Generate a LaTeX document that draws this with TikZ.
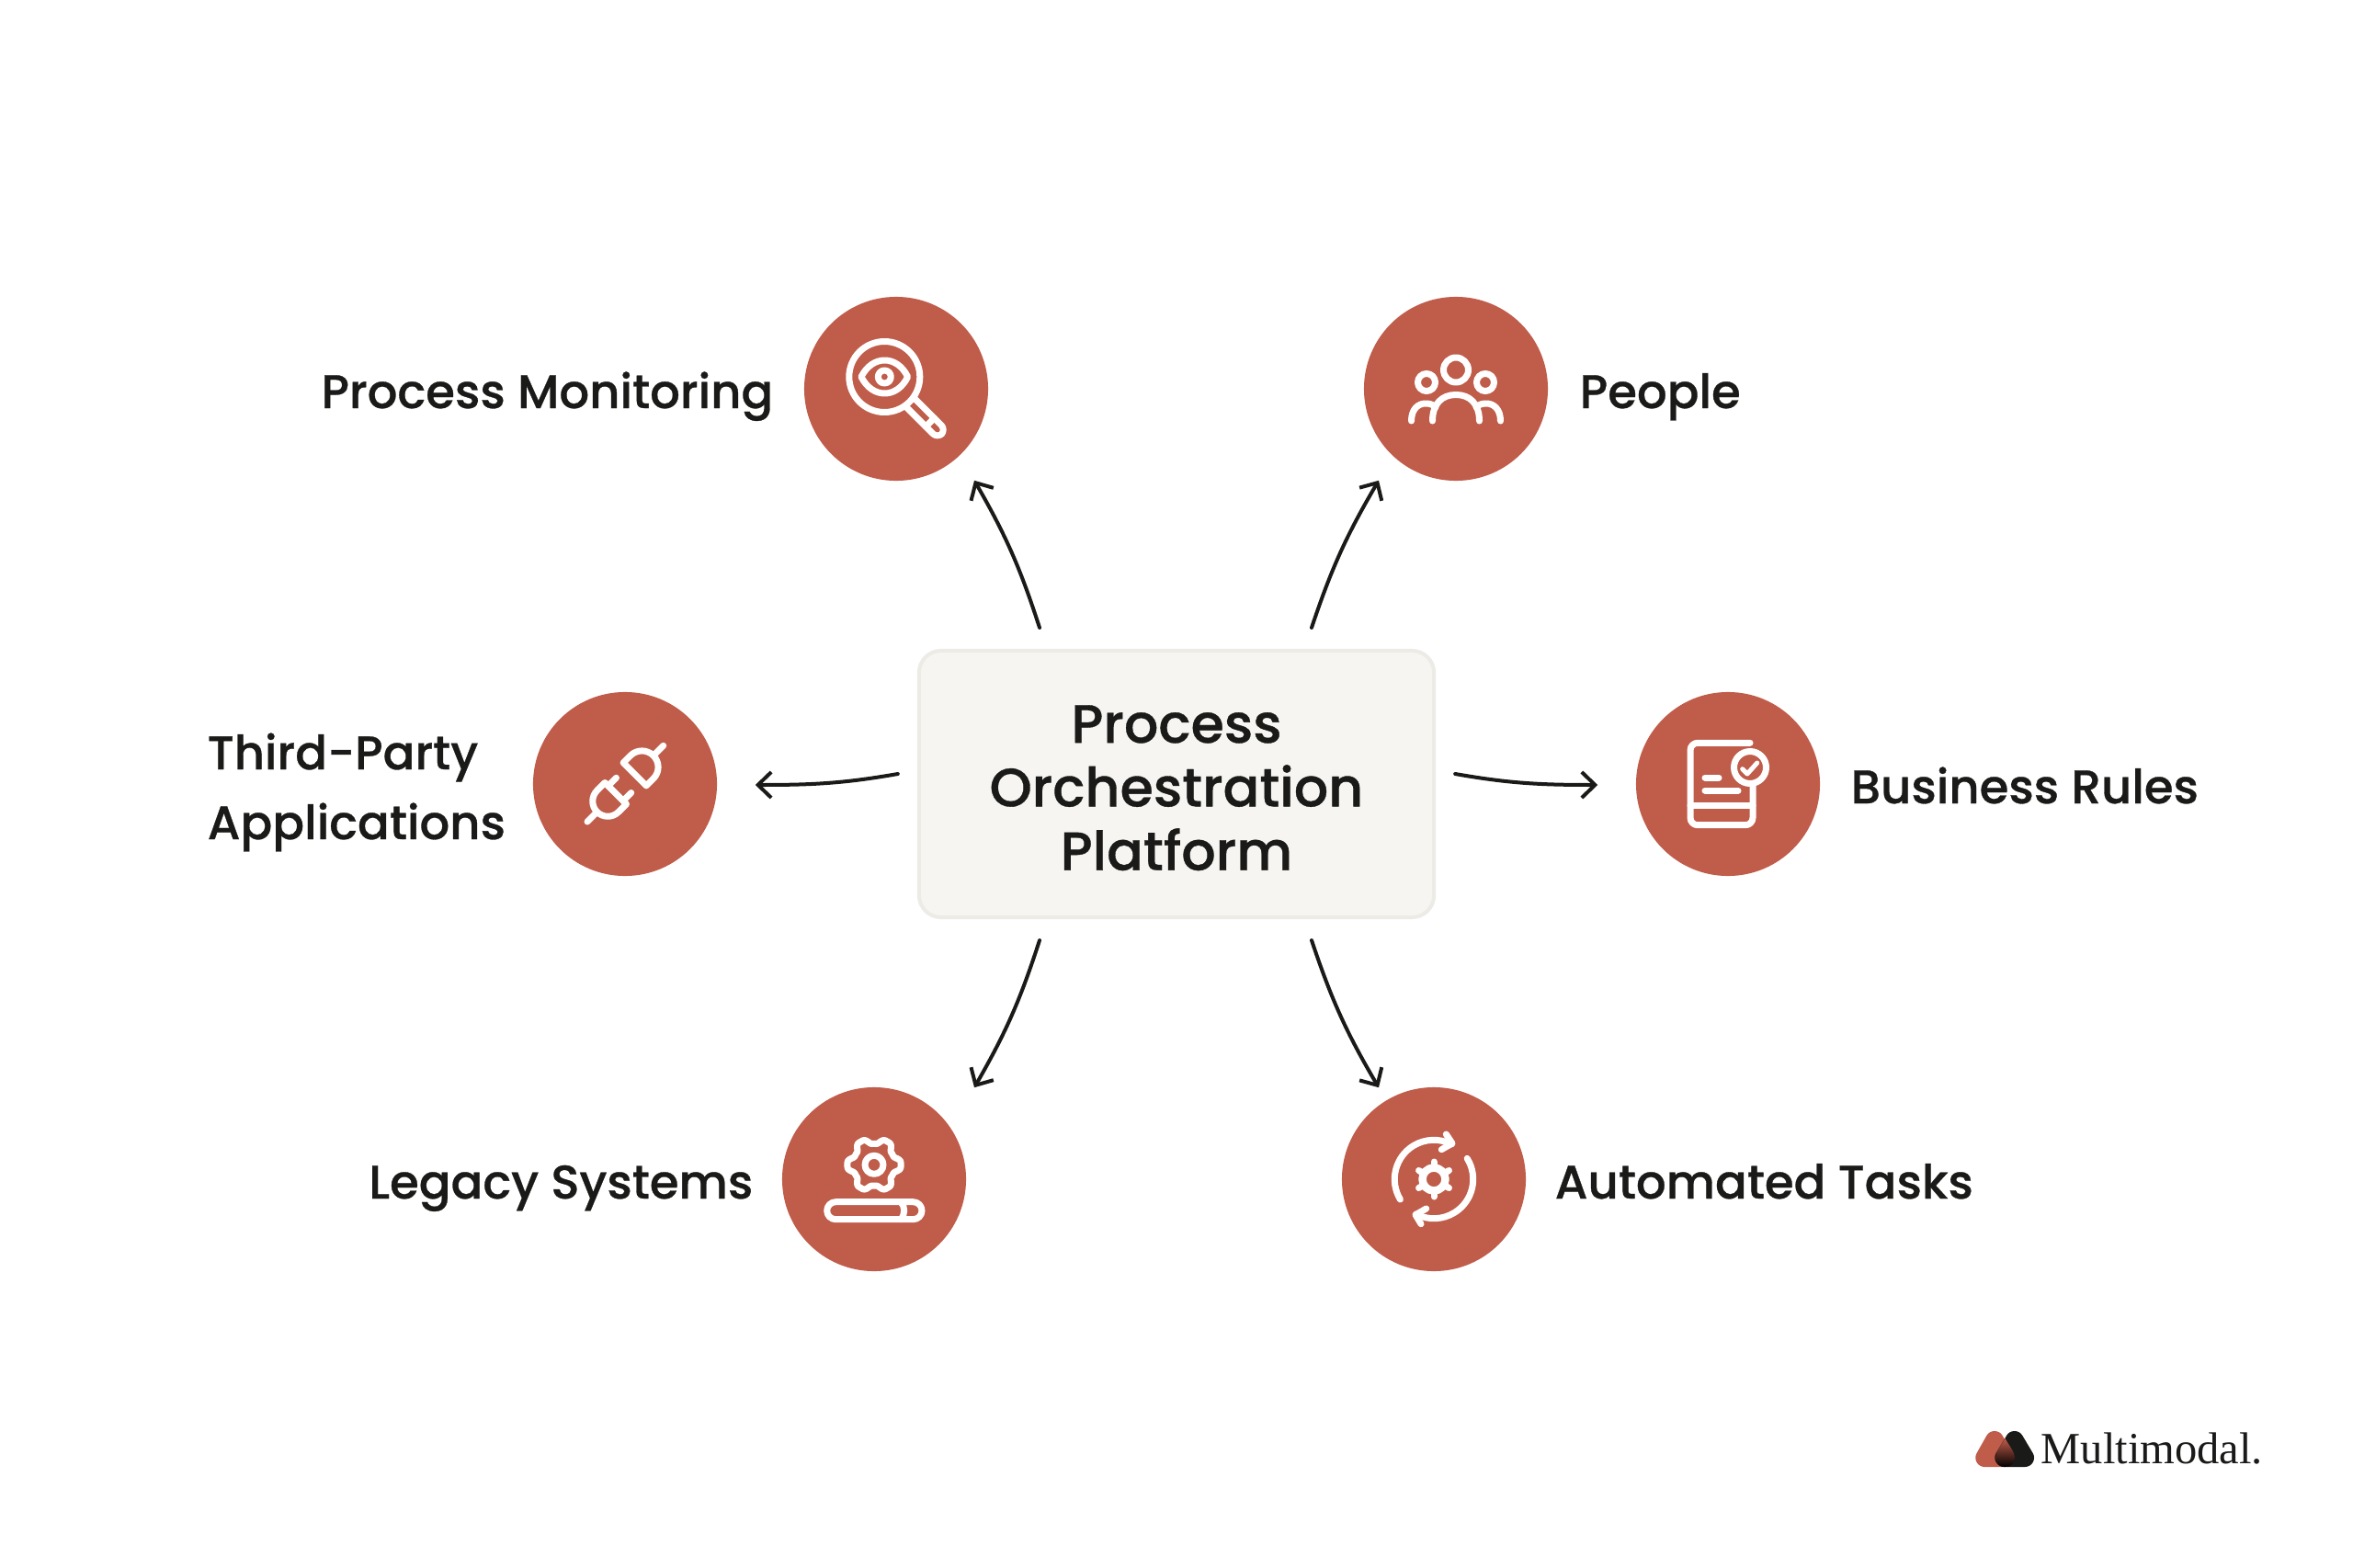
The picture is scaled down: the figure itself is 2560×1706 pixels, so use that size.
\documentclass[tikz,border=0pt]{standalone}
\usepackage{fontspec}
\usetikzlibrary{arrows.meta}
\setmainfont{Poppins}[UprightFont=* Medium,FakeBold=0.6]
\newfontfamily\logofont{Liberation Serif}
\definecolor{clay}{HTML}{C05C4A}
\definecolor{ink}{HTML}{1A1A18}
\definecolor{boxfill}{HTML}{F6F5F1}
\definecolor{boxline}{HTML}{ECEBE6}
\tikzset{
  hub/.style={circle,fill=clay,minimum size=2cm,inner sep=0pt},
  platformbox/.style={rectangle,draw=boxline,fill=boxfill,line width=0.04cm,rounded corners=0.24cm,
    minimum width=5.6cm,minimum height=2.9cm,align=center,inner sep=0pt,text=ink,
    font=\fontsize{16.7}{19.7}\selectfont},
  caption/.style={inner sep=0pt,text=ink,font=\fontsize{14.6}{21.6}\selectfont},
  flow/.style={draw=ink,line width=0.04cm,line cap=round,-{Straight Barb[length=0.145cm,width=0.28cm]}},
  icon/.style={draw=white,line width=0.07cm,line cap=round,line join=round},
  logomark/.style={line width=0.2cm,line join=round},
}
\begin{document}
\begin{tikzpicture}[x=0.01cm,y=-0.01cm]
  \useasboundingbox (0,0) rectangle (2560,1706);

  % Platform and the six circles
  \node[platformbox] (platform) at (1280,853) {\rule{0pt}{14pt}Process\\Orchestration\\Platform};
  \node[hub] (monitor) at (975,423) {};
  \node[hub] (people) at (1584,423) {};
  \node[hub] (thirdparty) at (680,853) {};
  \node[hub] (rules) at (1880,853) {};
  \node[hub] (legacy) at (951,1283) {};
  \node[hub] (tasks) at (1560,1283) {};

  % Captions
  \node[caption,anchor=base east] (monitorlabel) at (842,444) {Process Monitoring};
  \node[caption,anchor=base west] (peoplelabel) at (1718,444) {People};
  \node[caption,anchor=west,align=left] (thirdpartylabel) at (225,862) {Third-Party\\Applications};
  \node[caption,anchor=base west] (ruleslabel) at (2013,874) {Business Rules};
  \node[caption,anchor=base east] (legacylabel) at (820,1304) {Legacy Systems};
  \node[caption,anchor=base west] (taskslabel) at (1691,1304) {Automated Tasks};

  % Arrows
  \draw[flow] ([shift={(-149,-23)}]platform.north) to[bend right=6] ([shift={(85,-1)}]monitor.south);
  \draw[flow] ([shift={(147,-23)}]platform.north) to[bend left=6] ([shift={(-84,-1)}]people.south);
  \draw[flow] ([shift={(-21,-11)}]platform.west) to[out=190,in=0] ([shift={(41,1)}]thirdparty.east);
  \draw[flow] ([shift={(21,-11)}]platform.east) to[out=-10,in=180] ([shift={(-41,1)}]rules.west);
  \draw[flow] ([shift={(-149,23)}]platform.south) to[bend left=6] ([shift={(109,1)}]legacy.north);
  \draw[flow] ([shift={(147,23)}]platform.south) to[bend right=6] ([shift={(-60,1)}]tasks.north);

  % Process Monitoring icon
  \begin{scope}[shift={(monitor.center)}]
    \draw[icon] (-12.7,-13) circle (38.5);
    \draw[icon] (-38,-13) .. controls (-26,-37) and (1,-37) .. (12.6,-13) .. controls (1,11) and (-26,11) .. cycle;
    \draw[icon] (-12.7,-13) circle (7);
    \begin{scope}[shift={(-12.7,-13)},rotate=-45]
      \draw[icon,rounded corners=0.07cm] (38.5,-6.5) -- (88,-6.5) -- (88,6.5) -- (38.5,6.5);
      \draw[icon] (70,-6.5) -- (70,6.5);
    \end{scope}
  \end{scope}

  % People icon
  \begin{scope}[shift={(people.center)}]
    \draw[icon] (0,-20.5) circle (13.5);
    \foreach \s in {-1,1} {
      \draw[icon] (32*\s,-7) circle (9.5);
      \draw[icon] (48.5*\s,35) .. controls (48.5*\s,22) and (41*\s,16) .. (33*\s,16) .. controls (29*\s,16) and (25*\s,17) .. (22*\s,20);
    }
    \draw[icon] (-25.5,35) .. controls (-25.5,16) and (-15,6.5) .. (0,6.5) .. controls (15,6.5) and (25.5,16) .. (25.5,35);
  \end{scope}

  % Third-Party Applications icon
  \begin{scope}[shift={(thirdparty.center)},rotate=45]
    \draw[icon] (15,17.7) -- (26,17.7) arc (90:-90:17.7) -- (15,-17.7) -- cycle;
    \draw[icon] (43.7,0) -- (59,0);
    \draw[icon] (-14.4,16.5) -- (-26.5,16.5) arc (90:270:16.5) -- (-14.4,-16.5) -- cycle;
    \draw[icon] (-43,0) -- (-58,0);
    \draw[icon] (-14.4,11.5) -- (-2,11.5);
    \draw[icon] (-14.4,-11.5) -- (-2,-11.5);
  \end{scope}

  % Business Rules icon
  \begin{scope}[shift={(rules.center)}]
    \draw[icon,rounded corners=0.08cm] (27,0) -- (27,44.7) -- (-41,44.7) -- (-41,-44.7) -- (24,-44.7);
    \draw[icon] (-41,23.7) -- (27,23.7);
    \draw[icon] (-25,-7) -- (-10,-7);
    \draw[icon] (-25,7) -- (11,7);
    \draw[icon,fill=clay] (24,-18) circle (17.5);
    \draw[icon,line width=0.05cm] (15.7,-16.3) -- (21,-11) -- (31.7,-23);
  \end{scope}

  % Legacy Systems icon
  \begin{scope}[shift={(legacy.center)}]
    \begin{scope}[shift={(0,-15.7)}]
      \draw[icon] plot[domain=0:360,samples=145] ({(26+3.6*(cos(6*\x)-0.15*cos(18*\x)))*cos(\x)},{(26+3.6*(cos(6*\x)-0.15*cos(18*\x)))*sin(\x)}) -- cycle;
      \draw[icon] (0,0) circle (10);
    \end{scope}
    \draw[icon,rounded corners=0.095cm] (-51.3,24.7) rectangle (52,43.7);
    \draw[icon] (29,24.7) .. controls (34,30) and (34,38) .. (29,43.7);
  \end{scope}

  % Automated Tasks icon
  \begin{scope}[shift={(tasks.center)}]
    \draw[icon] (-211:42.7) arc (-211:-63:42.7);
    \draw[icon] (13.3,-49) -- (20,-39) -- (8.3,-32.3);
    \draw[icon] (-32:42.7) arc (-32:117:42.7);
    \draw[icon] (-14,48.7) -- (-20,38.7) -- (-8.3,32);
    \draw[icon,line width=0.085cm] (0,0) circle (12.5);
    \foreach \a in {30,90,...,330} {
      \draw[icon] (\a:14) -- (\a:19);
    }
  \end{scope}

  % Logo
  \filldraw[clay,logomark] (2170,1567) -- (2159.3,1586) -- (2180.7,1586) -- cycle;
  \filldraw[ink,logomark] (2191.7,1567) -- (2180.3,1586) -- (2203,1586) -- cycle;
  \shade[top color=clay,bottom color=black] (2181.5,1565) .. controls (2177,1573) and (2171,1580) .. (2171,1586) .. controls (2171,1592) and (2176,1596) .. (2181.5,1596) .. controls (2187,1596) and (2192,1592) .. (2192,1586) .. controls (2192,1580) and (2186,1573) .. cycle;
  \node[anchor=base west,inner sep=0pt,text=ink,font=\logofont\fontsize{13.8}{16}\selectfont] (logoname) at (2220,1592) {Multimodal.};
\end{tikzpicture}
\end{document}
